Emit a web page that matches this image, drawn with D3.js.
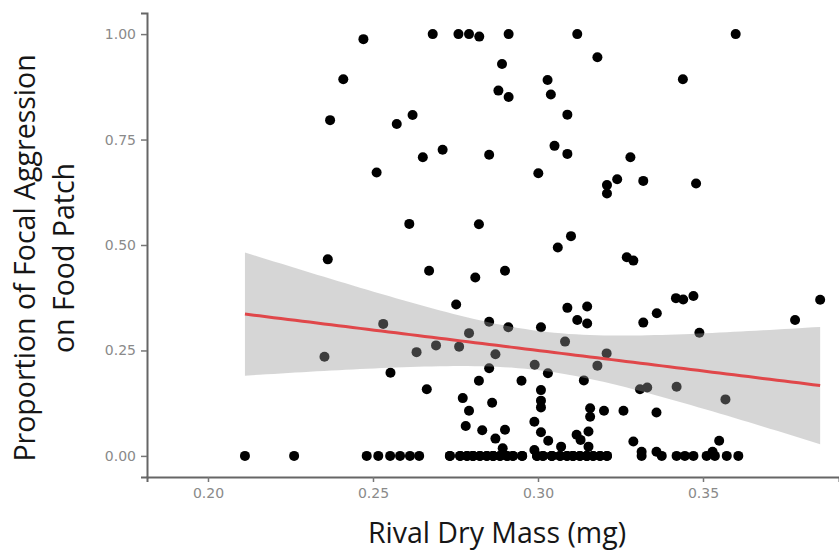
<!DOCTYPE html>
<html>
<head>
<meta charset="utf-8">
<script src="https://cdn.jsdelivr.net/npm/d3@7"></script>
<style>
  body { margin: 0; background: #fff; }
  svg { display: block; }
</style>
</head>
<body>
<svg id="chart" width="839" height="552"></svg>
<script>
// rival dry mass (mg) and proportion of focal aggression, one entry per trial
const rivalMass = [
  0.2471, 0.2410, 0.2370, 0.2511, 0.2681, 0.2759, 0.2791, 0.2822, 0.2911, 0.3119,
  0.3180, 0.2891, 0.3029, 0.2880, 0.2911, 0.3039, 0.3089, 0.2620, 0.2572, 0.3050,
  0.3089, 0.2711, 0.2651, 0.2852, 0.3001, 0.3599, 0.3439, 0.3280, 0.3240, 0.3209,
  0.3209, 0.3319, 0.3479, 0.3269, 0.3289, 0.3418, 0.3440, 0.3471, 0.3360, 0.3319,
  0.3855, 0.3779, 0.2363, 0.2610, 0.2821, 0.3100, 0.3060, 0.2670, 0.2810, 0.2900,
  0.2752, 0.3089, 0.3149, 0.3119, 0.3149, 0.2852, 0.2910, 0.3009, 0.2531, 0.2791,
  0.2691, 0.2632, 0.2761, 0.2871, 0.3082, 0.3208, 0.2990, 0.3180, 0.2553, 0.2852,
  0.3030, 0.2821, 0.2950, 0.3139, 0.2663, 0.3009, 0.2772, 0.2861, 0.3009, 0.3009,
  0.3158, 0.3200, 0.2791, 0.3158, 0.2989, 0.2781, 0.2831, 0.2900, 0.3009, 0.3153,
  0.2871, 0.3117, 0.3031, 0.3129, 0.3153, 0.3070, 0.2893, 0.2989, 0.3489, 0.3309,
  0.3331, 0.3420, 0.3568, 0.3259, 0.3359, 0.3289, 0.3549, 0.3314, 0.3359, 0.3529,
  0.2353,
  // zero aggression (many overlap in the dense part of the bottom row)
  0.2112, 0.2261, 0.2481, 0.2516, 0.2552, 0.2582, 0.2612, 0.2640, 0.2733, 0.2764,
  0.2785, 0.2803, 0.2824, 0.2845, 0.2864, 0.2885, 0.2906, 0.2924, 0.2952, 0.2997,
  0.3015, 0.3042, 0.3067, 0.3088, 0.3106, 0.3127, 0.3148, 0.3167, 0.3188, 0.3209,
  0.3314, 0.3375, 0.3420, 0.3445, 0.3471, 0.3511, 0.3536, 0.3572, 0.3607,
  0.2733, 0.2764, 0.2785, 0.2803, 0.2824, 0.2845, 0.2864, 0.2885, 0.2906, 0.2924,
  0.2952, 0.2803, 0.2864,
  0.2997, 0.3015, 0.3042, 0.3067, 0.3088, 0.3106, 0.3127, 0.3148, 0.3167, 0.3188,
  0.3209, 0.3042, 0.3106, 0.3148
];
const aggression = [
  0.988, 0.893, 0.796, 0.672, 1.000, 1.000, 1.000, 0.994, 1.000, 1.000,
  0.945, 0.929, 0.891, 0.866, 0.851, 0.857, 0.809, 0.808, 0.787, 0.735,
  0.716, 0.726, 0.708, 0.714, 0.670, 1.000, 0.893, 0.708, 0.656, 0.642,
  0.622, 0.652, 0.646, 0.471, 0.463, 0.374, 0.371, 0.379, 0.338, 0.316,
  0.370, 0.322, 0.466, 0.550, 0.549, 0.521, 0.494, 0.439, 0.423, 0.439,
  0.359, 0.351, 0.354, 0.322, 0.314, 0.318, 0.305, 0.305, 0.313, 0.291,
  0.262, 0.246, 0.259, 0.241, 0.271, 0.243, 0.216, 0.214, 0.197, 0.208,
  0.196, 0.178, 0.178, 0.179, 0.158, 0.156, 0.137, 0.126, 0.131, 0.115,
  0.113, 0.107, 0.107, 0.093, 0.081, 0.071, 0.061, 0.062, 0.056, 0.058,
  0.041, 0.050, 0.036, 0.038, 0.022, 0.022, 0.018, 0.014, 0.292, 0.158,
  0.162, 0.164, 0.134, 0.107, 0.103, 0.034, 0.036, 0.010, 0.010, 0.010,
  0.235,
  0, 0, 0, 0, 0, 0, 0, 0, 0, 0,
  0, 0, 0, 0, 0, 0, 0, 0, 0, 0,
  0, 0, 0, 0, 0, 0, 0, 0, 0, 0,
  0, 0, 0, 0, 0, 0, 0, 0, 0,
  0, 0, 0, 0, 0, 0, 0, 0, 0, 0,
  0, 0, 0,
  0, 0, 0, 0, 0, 0, 0, 0, 0, 0,
  0, 0, 0, 0
];
const xTicks = [0.20, 0.25, 0.30, 0.35];
const yTicks = [0.00, 0.25, 0.50, 0.75, 1.00];

const data = rivalMass.map((m, i) => ({ x: m, y: aggression[i] }));

const svg = d3.select("#chart");
const margin = { top: 13, right: 839, bottom: 477, left: 147 };

const x = d3.scaleLinear().domain([0.18152, 0.39121]).range([margin.left, margin.right]);
const y = d3.scaleLinear().domain([-0.05, 1.05]).range([margin.bottom, margin.top]);

// linear fit with 95% confidence band (like geom_smooth(method = "lm"))
const n = data.length;
const mx = d3.mean(data, d => d.x), my = d3.mean(data, d => d.y);
const sxx = d3.sum(data, d => (d.x - mx) ** 2);
const sxy = d3.sum(data, d => (d.x - mx) * (d.y - my));
const slope = sxy / sxx, icpt = my - slope * mx;
const sse = d3.sum(data, d => (d.y - icpt - slope * d.x) ** 2);
const sres = Math.sqrt(sse / (n - 2));
const tq = 1.973;
const xmin = d3.min(rivalMass), xmax = d3.max(rivalMass);
const xs = d3.range(81).map(i => xmin + i / 80 * (xmax - xmin));
const fit = xs.map(v => {
  const f = icpt + slope * v;
  const se = sres * Math.sqrt(1 / n + (v - mx) ** 2 / sxx);
  return { x: v, f: f, lo: f - tq * se, hi: f + tq * se };
});

// points
svg.append("g").selectAll("circle")
  .data(data)
  .enter()
  .append("circle")
  .attr("cx", d => x(d.x))
  .attr("cy", d => y(d.y))
  .attr("r", 5)
  .attr("fill", "#000");

// band drawn over the points, as ggplot does
svg.append("path")
  .datum(fit)
  .attr("d", d3.area().x(d => x(d.x)).y0(d => y(d.lo)).y1(d => y(d.hi)))
  .attr("fill", "#999")
  .attr("fill-opacity", 0.4);

svg.append("path")
  .datum(fit)
  .attr("d", d3.line().x(d => x(d.x)).y(d => y(d.f)))
  .attr("fill", "none")
  .attr("stroke", "#e0474a")
  .attr("stroke-width", 3);

// axes
const xAxis = svg.append("g")
  .attr("transform", "translate(0," + margin.bottom + ")")
  .call(d3.axisBottom(x).tickValues(xTicks).tickFormat(d3.format(".2f")).tickSizeOuter(0).tickSize(5).tickPadding(6));
const yAxis = svg.append("g")
  .attr("transform", "translate(" + margin.left + ",0)")
  .call(d3.axisLeft(y).tickValues(yTicks).tickFormat(d3.format(".2f")).tickSizeOuter(0).tickSize(6).tickPadding(5));

[xAxis, yAxis].forEach(g => {
  g.select(".domain").attr("stroke", "#666").attr("stroke-width", 2);
  g.selectAll(".tick line").attr("stroke", "#777").attr("stroke-width", 1.5);
  g.selectAll(".tick text")
    .attr("fill", "#8a8a8a")
    .style("font-family", "'DejaVu Sans', sans-serif")
    .style("font-size", "14px");
});

// titles
svg.append("text")
  .attr("x", 497)
  .attr("y", 543)
  .attr("text-anchor", "middle")
  .style("font-family", "'Open Sans', sans-serif")
  .style("font-size", "28.5px")
  .attr("fill", "#161616")
  .text("Rival Dry Mass (mg)");

const yl = svg.append("text")
  .attr("transform", "translate(0,258) rotate(-90)")
  .attr("text-anchor", "middle")
  .style("font-family", "'Open Sans', sans-serif")
  .style("font-size", "28.5px")
  .attr("fill", "#161616");
yl.append("tspan").attr("x", 0).attr("y", 35).text("Proportion of Focal Aggression");
yl.append("tspan").attr("x", 0).attr("y", 74).text("on Food Patch");
</script>
</body>
</html>
